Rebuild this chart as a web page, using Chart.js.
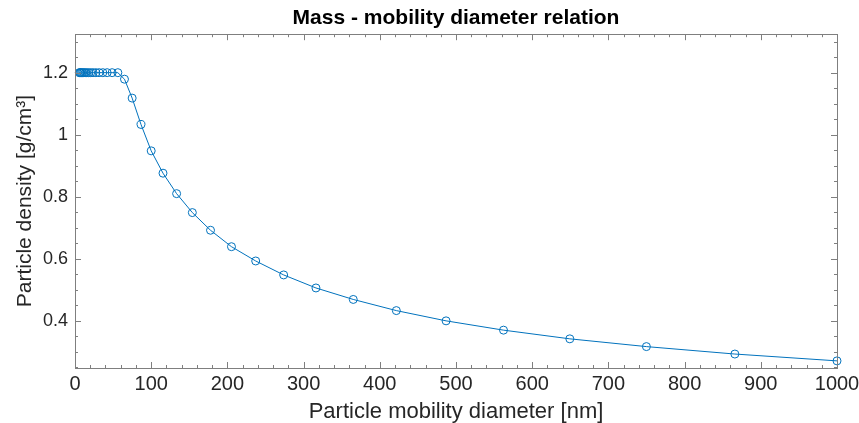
<!DOCTYPE html>
<html>
<head>
<meta charset="utf-8">
<script src="https://cdn.jsdelivr.net/npm/chart.js@4.4.1/dist/chart.umd.min.js"></script>
<style>
  html, body { margin: 0; padding: 0; background: #fff; }
  #wrap { width: 859px; height: 423px; }
</style>
</head>
<body>
<div id="wrap"><canvas id="grafico" width="859" height="423"></canvas></div>
<script>
// Datos
const diameters = [5.62, 6.49, 7.5, 8.66, 10, 11.55, 13.34, 15.4, 17.78, 20.54, 23.71, 27.38, 31.62,
  36.52, 42.17, 48.7, 56.23, 64.94, 74.99, 86.6, 100, 115.48, 133.35, 153.99, 177.83, 205.35,
  237.14, 273.84, 316.23, 365.17, 421.7, 486.97, 562.34, 649.38, 749.89, 865.96, 1000];
const densities = [1.2, 1.2, 1.2, 1.2, 1.2, 1.2, 1.2, 1.2, 1.2, 1.2, 1.2, 1.2, 1.2,
  1.2, 1.2, 1.2, 1.2, 1.179, 1.118, 1.033, 0.948, 0.876, 0.81, 0.749, 0.692, 0.639,
  0.593, 0.548, 0.506, 0.469, 0.433, 0.4, 0.37, 0.342, 0.317, 0.293, 0.271];
const xTicks = [0, 100, 200, 300, 400, 500, 600, 700, 800, 900, 1000];
const yTicks = [0.4, 0.6, 0.8, 1, 1.2];
const xMinorStep = 20;
const yMinorStep = 0.05;

const AZUL = '#0072BD';
const GRIS = '#262626';
const BORDE = '#7f7f7f';
const FUENTE = '"Liberation Sans", Arial, sans-serif';

// Dibuja la caja y las marcas hacia dentro, estilo MATLAB
const cajaMatlab = {
  id: 'cajaMatlab',
  afterDraw(chart) {
    const { ctx, chartArea: a, scales } = chart;
    const x = scales.x, y = scales.y;
    ctx.save();
    ctx.strokeStyle = BORDE;
    ctx.lineWidth = 1;
    ctx.beginPath();
    for (let v = x.min; v <= x.max + 1e-9; v += xMinorStep) {
      const px = Math.round(x.getPixelForValue(v)) + 0.5;
      const len = xTicks.includes(Math.round(v)) ? 6 : 3;
      ctx.moveTo(px, a.bottom); ctx.lineTo(px, a.bottom - len);
      ctx.moveTo(px, a.top); ctx.lineTo(px, a.top + len);
    }
    const start = Math.ceil(y.min / yMinorStep) * yMinorStep;
    for (let v = start; v <= y.max + 1e-9; v += yMinorStep) {
      const py = Math.round(y.getPixelForValue(v)) + 0.5;
      const major = yTicks.some(t => Math.abs(t - v) < 1e-6);
      const len = major ? 6 : 3;
      ctx.moveTo(a.left, py); ctx.lineTo(a.left + len, py);
      ctx.moveTo(a.right, py); ctx.lineTo(a.right - len, py);
    }
    ctx.stroke();
    ctx.strokeRect(Math.round(a.left) + 0.5, Math.round(a.top) + 0.5,
      Math.round(a.right - a.left), Math.round(a.bottom - a.top));
    ctx.restore();
  }
};

const ctx = document.getElementById('grafico').getContext('2d');
new Chart(ctx, {
  type: 'line',
  data: {
    datasets: [{
      data: diameters.map((d, i) => ({ x: d, y: densities[i] })),
      borderColor: AZUL,
      borderWidth: 1,
      tension: 0,
      pointStyle: 'circle',
      pointRadius: 4,
      pointBorderWidth: 1,
      pointBorderColor: AZUL,
      pointBackgroundColor: 'rgba(0,0,0,0)',
      clip: false
    }]
  },
  plugins: [cajaMatlab],
  options: {
    responsive: false,
    animation: false,
    devicePixelRatio: 1,
    layout: { padding: { left: 0, right: 0, top: 0, bottom: 0 } },
    plugins: {
      legend: { display: false },
      tooltip: { enabled: false },
      title: {
        display: true,
        fullSize: false,
        text: 'Mass - mobility diameter relation',
        color: '#000',
        font: { family: FUENTE, size: 21, weight: 'bold', lineHeight: 1.2 },
        padding: { top: 6, bottom: 3 }
      }
    },
    scales: {
      x: {
        type: 'linear',
        min: 0,
        max: 1000,
        afterBuildTicks: s => { s.ticks = xTicks.map(v => ({ value: v })); },
        afterFit: s => { s.height = 55; s.paddingRight = 22; s.paddingLeft = 0; },
        grid: { display: false, drawTicks: false },
        border: { display: false },
        ticks: {
          color: GRIS,
          padding: 4,
          maxRotation: 0,
          font: { family: FUENTE, size: 20 },
          callback: v => String(v)
        },
        title: {
          display: true,
          text: 'Particle mobility diameter [nm]',
          color: GRIS,
          font: { family: FUENTE, size: 22 },
          padding: { top: 0, bottom: -2 }
        }
      },
      y: {
        type: 'linear',
        min: 0.248,
        max: 1.324,
        afterBuildTicks: s => { s.ticks = yTicks.map(v => ({ value: v })); },
        afterFit: s => { s.width = 75; },
        grid: { display: false, drawTicks: false },
        border: { display: false },
        ticks: {
          color: GRIS,
          padding: 7,
          font: { family: FUENTE, size: 18 },
          callback: v => String(v)
        },
        title: {
          display: true,
          text: 'Particle density [g/cm³]',
          color: GRIS,
          font: { family: FUENTE, size: 21 },
          padding: { top: 13, bottom: 0 }
        }
      }
    }
  }
});
</script>
</body>
</html>
